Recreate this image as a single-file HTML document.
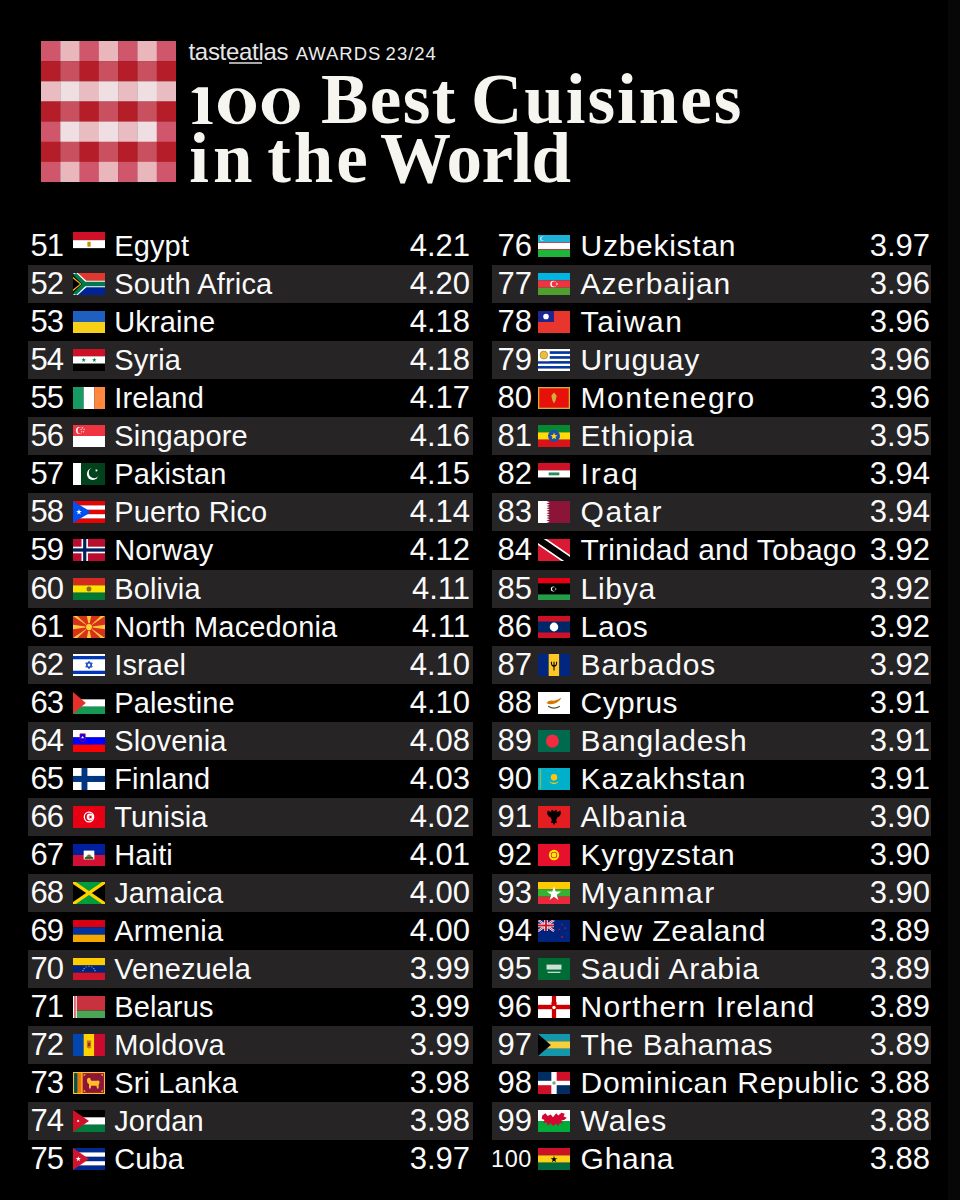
<!DOCTYPE html>
<html><head><meta charset="utf-8"><style>
html,body{margin:0;padding:0;background:#000;}
body{width:960px;height:1200px;position:relative;overflow:hidden;font-family:"Liberation Sans",sans-serif;color:#fafafa;}
.st{position:absolute;height:38px;background:#262425;}
.st.L{left:27.5px;width:445.5px;}
.st.R{left:491.5px;width:439.5px;}
.num,.nm,.sc{position:absolute;height:38px;line-height:38px;font-size:29px;white-space:nowrap;}
.num{font-size:31px;}
.sc{font-size:31px;}
.num.L{left:0;width:63.1px;text-align:right;letter-spacing:-1px;}
.num.R{left:470px;width:62px;text-align:right;}
.n100{font-size:23.5px;letter-spacing:0.6px;}
.nm.L{left:114.2px;letter-spacing:0.15px;}
.nm.R{left:580.6px;font-size:30px;}
.sc.L{left:380px;width:90px;text-align:right;}
.sc.R{left:841px;width:89px;text-align:right;}
.fl{position:absolute;display:block;}
.brand{position:absolute;left:188.5px;top:37.5px;font-size:24px;line-height:28px;letter-spacing:-0.3px;white-space:nowrap;color:#e6e6e6;}
.aw,.aw2{position:absolute;top:39.6px;font-size:18.5px;line-height:28px;letter-spacing:0.7px;white-space:nowrap;color:#ececec;}
.aw{left:295.7px;letter-spacing:0.96px;}
.aw2{left:385.6px;letter-spacing:1.0px;}
.ul{position:absolute;left:229px;top:62.3px;width:33px;height:1.4px;background:#a8a8a8;}
.tw{position:absolute;font-family:"Liberation Serif",serif;font-weight:bold;font-size:71px;white-space:nowrap;color:#f7f5f0;line-height:80px;}
</style></head><body>
<div style="position:absolute;left:948px;top:0;width:12px;height:1200px;background:#070707"></div>
<svg style="position:absolute;left:41px;top:41px" width="135" height="141" viewBox="0 0 135 141"><rect x="0.00" y="0.00" width="19.59" height="20.44" fill="#cf566b"/><rect x="19.29" y="0.00" width="19.59" height="20.44" fill="#e9b6bb"/><rect x="38.57" y="0.00" width="19.59" height="20.44" fill="#cf566b"/><rect x="57.86" y="0.00" width="19.59" height="20.44" fill="#e9b6bb"/><rect x="77.14" y="0.00" width="19.59" height="20.44" fill="#cf566b"/><rect x="96.43" y="0.00" width="19.59" height="20.44" fill="#e9b6bb"/><rect x="115.71" y="0.00" width="19.59" height="20.44" fill="#cf566b"/><rect x="0.00" y="20.14" width="19.59" height="20.44" fill="#b51e29"/><rect x="19.29" y="20.14" width="19.59" height="20.44" fill="#c9505f"/><rect x="38.57" y="20.14" width="19.59" height="20.44" fill="#b51e29"/><rect x="57.86" y="20.14" width="19.59" height="20.44" fill="#c9505f"/><rect x="77.14" y="20.14" width="19.59" height="20.44" fill="#b51e29"/><rect x="96.43" y="20.14" width="19.59" height="20.44" fill="#c9505f"/><rect x="115.71" y="20.14" width="19.59" height="20.44" fill="#b51e29"/><rect x="0.00" y="40.29" width="19.59" height="20.44" fill="#e8bcc1"/><rect x="19.29" y="40.29" width="19.59" height="20.44" fill="#f0dfe2"/><rect x="38.57" y="40.29" width="19.59" height="20.44" fill="#e8bcc1"/><rect x="57.86" y="40.29" width="19.59" height="20.44" fill="#f0dfe2"/><rect x="77.14" y="40.29" width="19.59" height="20.44" fill="#e8bcc1"/><rect x="96.43" y="40.29" width="19.59" height="20.44" fill="#f0dfe2"/><rect x="115.71" y="40.29" width="19.59" height="20.44" fill="#e8bcc1"/><rect x="0.00" y="60.43" width="19.59" height="20.44" fill="#b51e29"/><rect x="19.29" y="60.43" width="19.59" height="20.44" fill="#c9505f"/><rect x="38.57" y="60.43" width="19.59" height="20.44" fill="#b51e29"/><rect x="57.86" y="60.43" width="19.59" height="20.44" fill="#c9505f"/><rect x="77.14" y="60.43" width="19.59" height="20.44" fill="#b51e29"/><rect x="96.43" y="60.43" width="19.59" height="20.44" fill="#c9505f"/><rect x="115.71" y="60.43" width="19.59" height="20.44" fill="#b51e29"/><rect x="0.00" y="80.57" width="19.59" height="20.44" fill="#cf566b"/><rect x="19.29" y="80.57" width="19.59" height="20.44" fill="#f0dfe2"/><rect x="38.57" y="80.57" width="19.59" height="20.44" fill="#e8bcc1"/><rect x="57.86" y="80.57" width="19.59" height="20.44" fill="#f0dfe2"/><rect x="77.14" y="80.57" width="19.59" height="20.44" fill="#e8bcc1"/><rect x="96.43" y="80.57" width="19.59" height="20.44" fill="#f0dfe2"/><rect x="115.71" y="80.57" width="19.59" height="20.44" fill="#cf566b"/><rect x="0.00" y="100.71" width="19.59" height="20.44" fill="#b51e29"/><rect x="19.29" y="100.71" width="19.59" height="20.44" fill="#c9505f"/><rect x="38.57" y="100.71" width="19.59" height="20.44" fill="#b51e29"/><rect x="57.86" y="100.71" width="19.59" height="20.44" fill="#c9505f"/><rect x="77.14" y="100.71" width="19.59" height="20.44" fill="#b51e29"/><rect x="96.43" y="100.71" width="19.59" height="20.44" fill="#c9505f"/><rect x="115.71" y="100.71" width="19.59" height="20.44" fill="#b51e29"/><rect x="0.00" y="120.86" width="19.59" height="20.44" fill="#cf566b"/><rect x="19.29" y="120.86" width="19.59" height="20.44" fill="#e9b6bb"/><rect x="38.57" y="120.86" width="19.59" height="20.44" fill="#cf566b"/><rect x="57.86" y="120.86" width="19.59" height="20.44" fill="#e9b6bb"/><rect x="77.14" y="120.86" width="19.59" height="20.44" fill="#cf566b"/><rect x="96.43" y="120.86" width="19.59" height="20.44" fill="#e9b6bb"/><rect x="115.71" y="120.86" width="19.59" height="20.44" fill="#cf566b"/></svg>
<div class="brand">tasteatlas</div>
<div class="aw">AWARDS</div><div class="aw2">23/24</div>
<div class="ul"></div>
<svg style="position:absolute;left:0;top:0" width="320" height="130" viewBox="0 0 320 130"><g fill="#f7f5f0">
<path d="M198,87.3 L208,87.3 L208,120.3 Q208.6,121.9 212.6,122.2 L212.6,123.9 L192.3,123.9 L192.3,122.2 Q197.4,121.9 198,120.3 L198,93.2 L191.6,92.6 L191.6,91.4 Z"/>
<path fill-rule="evenodd" d="M218,106.25 a19,18.1 0 1,0 38,0 a19,18.1 0 1,0 -38,0 Z M229.3,106.25 a8.1,15.6 0 1,0 16.2,0 a8.1,15.6 0 1,0 -16.2,0 Z"/>
<path fill-rule="evenodd" d="M261.8,106.25 a19,18.1 0 1,0 38,0 a19,18.1 0 1,0 -38,0 Z M273,106.25 a8.1,15.6 0 1,0 16.2,0 a8.1,15.6 0 1,0 -16.2,0 Z"/>
</g></svg>
<div class="tw" style="left:321px;top:58.8px;letter-spacing:1.4px">Best</div>
<div class="tw" style="left:471px;top:58.8px;letter-spacing:1.97px">Cuisines</div>
<div class="tw" style="left:189.3px;top:117.7px;letter-spacing:3.9px">in</div>
<div class="tw" style="left:267.3px;top:117.7px;letter-spacing:2.85px">the</div>
<div class="tw" style="left:380px;top:117.7px;letter-spacing:-0.55px">World</div>
<div class="num L" style="top:227.20px">51</div><svg class="fl" style="left:73px;top:232.30px" width="32" height="24.5" viewBox="0 0 30 20" preserveAspectRatio="none"><rect y="0.000" width="30" height="6.717" fill="#ce1126"/><rect y="6.667" width="30" height="6.717" fill="#ffffff"/><rect y="13.333" width="30" height="6.717" fill="#000000"/><rect x="13.5" y="8" width="3" height="4" fill="#c09300"/></svg><div class="nm L" style="top:227.20px">Egypt</div><div class="sc L" style="top:227.20px">4.21</div><div class="st L" style="top:265.24px"></div><div class="num L" style="top:265.24px">52</div><svg class="fl" style="left:73px;top:273.24px" width="32" height="22" viewBox="0 0 30 20" preserveAspectRatio="none"><rect width="30" height="10" fill="#de3831"/><rect y="10" width="30" height="10" fill="#002395"/><path d="M0,0 L10,10 L0,20 Z" fill="#000"/><path d="M0,0 L4.5,0 L12.5,7 L30,7 L30,13 L12.5,13 L4.5,20 L0,20 L10,10 Z" fill="#fff"/><path d="M0,1.5 L3,0 L11.5,8 L30,8 L30,12 L11.5,12 L3,20 L0,18.5 L8.5,10 Z" fill="#007a4d"/><path d="M0,3.5 L8,10 L0,16.5 L0,15 L6.5,10 L0,5 Z" fill="#ffb612"/></svg><div class="nm L" style="top:265.24px">South Africa</div><div class="sc L" style="top:265.24px">4.20</div><div class="num L" style="top:303.27px">53</div><svg class="fl" style="left:73px;top:311.27px" width="32" height="22" viewBox="0 0 30 20" preserveAspectRatio="none"><rect y="0.000" width="30" height="10.050" fill="#1f5fbf"/><rect y="10.000" width="30" height="10.050" fill="#f7d117"/></svg><div class="nm L" style="top:303.27px">Ukraine</div><div class="sc L" style="top:303.27px">4.18</div><div class="st L" style="top:341.30px"></div><div class="num L" style="top:341.30px">54</div><svg class="fl" style="left:73px;top:349.30px" width="32" height="22" viewBox="0 0 30 20" preserveAspectRatio="none"><rect y="0.000" width="30" height="6.717" fill="#ce1126"/><rect y="6.667" width="30" height="6.717" fill="#ffffff"/><rect y="13.333" width="30" height="6.717" fill="#000000"/><polygon points="10.00,7.80 10.49,9.32 12.09,9.32 10.80,10.26 11.29,11.78 10.00,10.84 8.71,11.78 9.20,10.26 7.91,9.32 9.51,9.32" fill="#007a3d"/><polygon points="20.00,7.80 20.49,9.32 22.09,9.32 20.80,10.26 21.29,11.78 20.00,10.84 18.71,11.78 19.20,10.26 17.91,9.32 19.51,9.32" fill="#007a3d"/></svg><div class="nm L" style="top:341.30px">Syria</div><div class="sc L" style="top:341.30px">4.18</div><div class="num L" style="top:379.34px">55</div><svg class="fl" style="left:73px;top:387.34px" width="32" height="22" viewBox="0 0 30 20" preserveAspectRatio="none"><rect x="0.000" width="10.050" height="20" fill="#169b62"/><rect x="10.000" width="10.050" height="20" fill="#ffffff"/><rect x="20.000" width="10.050" height="20" fill="#ff883e"/></svg><div class="nm L" style="top:379.34px">Ireland</div><div class="sc L" style="top:379.34px">4.17</div><div class="st L" style="top:417.38px"></div><div class="num L" style="top:417.38px">56</div><svg class="fl" style="left:73px;top:425.38px" width="32" height="22" viewBox="0 0 30 20" preserveAspectRatio="none"><rect y="0.000" width="30" height="10.050" fill="#ef3340"/><rect y="10.000" width="30" height="10.050" fill="#ffffff"/><circle cx="6" cy="5" r="3.2" fill="#fff"/><circle cx="7.3" cy="5" r="3" fill="#ef3340"/><polygon points="9.00,1.70 9.20,2.32 9.86,2.32 9.33,2.71 9.53,3.33 9.00,2.94 8.47,3.33 8.67,2.71 8.14,2.32 8.80,2.32" fill="#fff"/><polygon points="7.60,3.10 7.80,3.72 8.46,3.72 7.93,4.11 8.13,4.73 7.60,4.34 7.07,4.73 7.27,4.11 6.74,3.72 7.40,3.72" fill="#fff"/><polygon points="10.40,3.10 10.60,3.72 11.26,3.72 10.73,4.11 10.93,4.73 10.40,4.34 9.87,4.73 10.07,4.11 9.54,3.72 10.20,3.72" fill="#fff"/><polygon points="8.10,5.30 8.30,5.92 8.96,5.92 8.43,6.31 8.63,6.93 8.10,6.54 7.57,6.93 7.77,6.31 7.24,5.92 7.90,5.92" fill="#fff"/><polygon points="9.90,5.30 10.10,5.92 10.76,5.92 10.23,6.31 10.43,6.93 9.90,6.54 9.37,6.93 9.57,6.31 9.04,5.92 9.70,5.92" fill="#fff"/></svg><div class="nm L" style="top:417.38px">Singapore</div><div class="sc L" style="top:417.38px">4.16</div><div class="num L" style="top:455.41px">57</div><svg class="fl" style="left:73px;top:463.41px" width="32" height="22" viewBox="0 0 30 20" preserveAspectRatio="none"><rect width="30" height="20" fill="#01411c"/><rect width="7.5" height="20" fill="#fff"/><circle cx="18.5" cy="10" r="5.5" fill="#fff"/><circle cx="19.8" cy="8.8" r="5" fill="#01411c"/><polygon points="22.75,5.50 22.52,6.57 23.47,7.11 22.38,7.23 22.16,8.29 21.71,7.30 20.63,7.41 21.44,6.68 21.00,5.69 21.94,6.23" fill="#fff"/></svg><div class="nm L" style="top:455.41px">Pakistan</div><div class="sc L" style="top:455.41px">4.15</div><div class="st L" style="top:493.44px"></div><div class="num L" style="top:493.44px">58</div><svg class="fl" style="left:73px;top:501.44px" width="32" height="22" viewBox="0 0 30 20" preserveAspectRatio="none"><rect y="0.000" width="30" height="4.050" fill="#ed0000"/><rect y="4.000" width="30" height="4.050" fill="#fff"/><rect y="8.000" width="30" height="4.050" fill="#ed0000"/><rect y="12.000" width="30" height="4.050" fill="#fff"/><rect y="16.000" width="30" height="4.050" fill="#ed0000"/><path d="M0,0 L17,10 L0,20 Z" fill="#0050f0"/><polygon points="5.60,7.20 6.23,9.13 8.26,9.13 6.62,10.33 7.25,12.27 5.60,11.07 3.95,12.27 4.58,10.33 2.94,9.13 4.97,9.13" fill="#fff"/></svg><div class="nm L" style="top:493.44px">Puerto Rico</div><div class="sc L" style="top:493.44px">4.14</div><div class="num L" style="top:531.48px">59</div><svg class="fl" style="left:73px;top:539.48px" width="32" height="22" viewBox="0 0 30 20" preserveAspectRatio="none"><rect width="30" height="20" fill="#ba0c2f"/><rect x="8" width="6" height="20" fill="#fff"/><rect y="7" width="30" height="6" fill="#fff"/><rect x="9.5" width="3" height="20" fill="#00205b"/><rect y="8.5" width="30" height="3" fill="#00205b"/></svg><div class="nm L" style="top:531.48px">Norway</div><div class="sc L" style="top:531.48px">4.12</div><div class="st L" style="top:569.51px"></div><div class="num L" style="top:569.51px">60</div><svg class="fl" style="left:73px;top:577.51px" width="32" height="22" viewBox="0 0 30 20" preserveAspectRatio="none"><rect y="0.000" width="30" height="6.717" fill="#d52b1e"/><rect y="6.667" width="30" height="6.717" fill="#f9e300"/><rect y="13.333" width="30" height="6.717" fill="#007934"/><circle cx="15" cy="10" r="2.3" fill="#8a6a1e"/></svg><div class="nm L" style="top:569.51px">Bolivia</div><div class="sc L" style="top:569.51px">4.11</div><div class="num L" style="top:607.55px">61</div><svg class="fl" style="left:73px;top:615.55px" width="32" height="22" viewBox="0 0 30 20" preserveAspectRatio="none"><rect width="30" height="20" fill="#d8301c"/><path d="M0,0 L4,0 L15,10 Z M30,0 L26,0 L15,10 Z M0,20 L4,20 L15,10 Z M30,20 L26,20 L15,10 Z M13,0 L17,0 L15,10 Z M13,20 L17,20 L15,10 Z M0,8 L0,12 L15,10 Z M30,8 L30,12 L15,10 Z" fill="#ffc83a"/><circle cx="15" cy="10" r="3.4" fill="#d8301c"/><circle cx="15" cy="10" r="2.8" fill="#ffd23a"/></svg><div class="nm L" style="top:607.55px">North Macedonia</div><div class="sc L" style="top:607.55px">4.11</div><div class="st L" style="top:645.59px"></div><div class="num L" style="top:645.59px">62</div><svg class="fl" style="left:73px;top:653.59px" width="32" height="22" viewBox="0 0 30 20" preserveAspectRatio="none"><rect width="30" height="20" fill="#fff"/><rect y="1.8" width="30" height="3" fill="#0038b8"/><rect y="15.2" width="30" height="3" fill="#0038b8"/><path d="M15,6.6 L18,11.8 L12,11.8 Z M15,13.4 L12,8.2 L18,8.2 Z" fill="none" stroke="#0038b8" stroke-width="0.9"/></svg><div class="nm L" style="top:645.59px">Israel</div><div class="sc L" style="top:645.59px">4.10</div><div class="num L" style="top:683.62px">63</div><svg class="fl" style="left:73px;top:691.62px" width="32" height="22" viewBox="0 0 30 20" preserveAspectRatio="none"><rect y="0.000" width="30" height="6.717" fill="#000"/><rect y="6.667" width="30" height="6.717" fill="#fff"/><rect y="13.333" width="30" height="6.717" fill="#149954"/><path d="M0,0 L12,10 L0,20 Z" fill="#e4312b"/></svg><div class="nm L" style="top:683.62px">Palestine</div><div class="sc L" style="top:683.62px">4.10</div><div class="st L" style="top:721.65px"></div><div class="num L" style="top:721.65px">64</div><svg class="fl" style="left:73px;top:729.65px" width="32" height="22" viewBox="0 0 30 20" preserveAspectRatio="none"><rect y="0.000" width="30" height="6.717" fill="#fff"/><rect y="6.667" width="30" height="6.717" fill="#0000ff"/><rect y="13.333" width="30" height="6.717" fill="#ff0000"/><path d="M6.5,3.5 L11.5,3.5 L11.5,9 Q9,12 6.5,9 Z" fill="#0000ff" stroke="#ff0000" stroke-width="0.6"/><path d="M7.5,7.5 L9,5.5 L10.5,7.5 Z" fill="#fff"/></svg><div class="nm L" style="top:721.65px">Slovenia</div><div class="sc L" style="top:721.65px">4.08</div><div class="num L" style="top:759.69px">65</div><svg class="fl" style="left:73px;top:767.69px" width="32" height="22" viewBox="0 0 30 20" preserveAspectRatio="none"><rect width="30" height="20" fill="#fff"/><rect x="8" width="5.5" height="20" fill="#003580"/><rect y="7.2" width="30" height="5.5" fill="#003580"/></svg><div class="nm L" style="top:759.69px">Finland</div><div class="sc L" style="top:759.69px">4.03</div><div class="st L" style="top:797.72px"></div><div class="num L" style="top:797.72px">66</div><svg class="fl" style="left:73px;top:805.72px" width="32" height="22" viewBox="0 0 30 20" preserveAspectRatio="none"><rect width="30" height="20" fill="#e70013"/><circle cx="15" cy="10" r="5" fill="#fff"/><circle cx="15" cy="10" r="3.8" fill="#e70013"/><circle cx="16" cy="10" r="3.1" fill="#fff"/><polygon points="14.10,10.00 15.62,9.51 15.62,7.91 16.56,9.20 18.08,8.71 17.14,10.00 18.08,11.29 16.56,10.80 15.62,12.09 15.62,10.49" fill="#e70013"/></svg><div class="nm L" style="top:797.72px">Tunisia</div><div class="sc L" style="top:797.72px">4.02</div><div class="num L" style="top:835.76px">67</div><svg class="fl" style="left:73px;top:843.76px" width="32" height="22" viewBox="0 0 30 20" preserveAspectRatio="none"><rect y="0.000" width="30" height="10.050" fill="#00209f"/><rect y="10.000" width="30" height="10.050" fill="#d21034"/><rect x="10" y="6" width="10" height="8" fill="#fff"/><path d="M11.5,13 Q15,6 18.5,13 Z" fill="#7a6a3a"/><rect x="11" y="12" width="8" height="1.5" fill="#016a16"/></svg><div class="nm L" style="top:835.76px">Haiti</div><div class="sc L" style="top:835.76px">4.01</div><div class="st L" style="top:873.79px"></div><div class="num L" style="top:873.79px">68</div><svg class="fl" style="left:73px;top:881.79px" width="32" height="22" viewBox="0 0 30 20" preserveAspectRatio="none"><rect width="30" height="20" fill="#009b3a"/><path d="M0,0 L15,10 L0,20 Z M30,0 L15,10 L30,20 Z" fill="#000"/><path d="M0,0 L30,20 M30,0 L0,20" stroke="#fed100" stroke-width="3"/></svg><div class="nm L" style="top:873.79px">Jamaica</div><div class="sc L" style="top:873.79px">4.00</div><div class="num L" style="top:911.83px">69</div><svg class="fl" style="left:73px;top:919.83px" width="32" height="22" viewBox="0 0 30 20" preserveAspectRatio="none"><rect y="0.000" width="30" height="6.717" fill="#d90012"/><rect y="6.667" width="30" height="6.717" fill="#0033a0"/><rect y="13.333" width="30" height="6.717" fill="#f2a800"/></svg><div class="nm L" style="top:911.83px">Armenia</div><div class="sc L" style="top:911.83px">4.00</div><div class="st L" style="top:949.87px"></div><div class="num L" style="top:949.87px">70</div><svg class="fl" style="left:73px;top:957.87px" width="32" height="22" viewBox="0 0 30 20" preserveAspectRatio="none"><rect y="0.000" width="30" height="6.717" fill="#ffcc00"/><rect y="6.667" width="30" height="6.717" fill="#00247d"/><rect y="13.333" width="30" height="6.717" fill="#cf142b"/><polygon points="9.36,10.75 9.52,11.23 10.03,11.23 9.62,11.53 9.77,12.01 9.36,11.72 8.95,12.01 9.11,11.53 8.70,11.23 9.20,11.23" fill="#fff"/><polygon points="10.40,8.94 10.56,9.43 11.07,9.43 10.66,9.73 10.82,10.21 10.40,9.91 9.99,10.21 10.15,9.73 9.74,9.43 10.25,9.43" fill="#fff"/><polygon points="12.28,7.45 12.43,7.94 12.94,7.94 12.53,8.24 12.69,8.72 12.28,8.42 11.86,8.72 12.02,8.24 11.61,7.94 12.12,7.94" fill="#fff"/><polygon points="15.00,6.80 15.16,7.28 15.67,7.28 15.25,7.58 15.41,8.07 15.00,7.77 14.59,8.07 14.75,7.58 14.33,7.28 14.84,7.28" fill="#fff"/><polygon points="17.72,7.45 17.88,7.94 18.39,7.94 17.98,8.24 18.14,8.72 17.72,8.42 17.31,8.72 17.47,8.24 17.06,7.94 17.57,7.94" fill="#fff"/><polygon points="19.60,8.94 19.75,9.43 20.26,9.43 19.85,9.73 20.01,10.21 19.60,9.91 19.18,10.21 19.34,9.73 18.93,9.43 19.44,9.43" fill="#fff"/><polygon points="20.64,10.75 20.80,11.23 21.30,11.23 20.89,11.53 21.05,12.01 20.64,11.72 20.23,12.01 20.38,11.53 19.97,11.23 20.48,11.23" fill="#fff"/></svg><div class="nm L" style="top:949.87px">Venezuela</div><div class="sc L" style="top:949.87px">3.99</div><div class="num L" style="top:987.90px">71</div><svg class="fl" style="left:73px;top:995.90px" width="32" height="22" viewBox="0 0 30 20" preserveAspectRatio="none"><rect width="30" height="13.3" fill="#c8313e"/><rect y="13.3" width="30" height="6.7" fill="#4aa657"/><rect width="3.5" height="20" fill="#fff"/><rect x="0.9" width="1.8" height="20" fill="#c8313e" opacity="0.7"/></svg><div class="nm L" style="top:987.90px">Belarus</div><div class="sc L" style="top:987.90px">3.99</div><div class="st L" style="top:1025.93px"></div><div class="num L" style="top:1025.93px">72</div><svg class="fl" style="left:73px;top:1033.93px" width="32" height="22" viewBox="0 0 30 20" preserveAspectRatio="none"><rect x="0.000" width="10.050" height="20" fill="#0046ae"/><rect x="10.000" width="10.050" height="20" fill="#ffd200"/><rect x="20.000" width="10.050" height="20" fill="#cc092f"/><path d="M13,6 L17,6 L17,12 Q15,14.5 13,12 Z" fill="#b07e2a"/><path d="M14,8 L16,8 L16,11 L14,11 Z" fill="#cc092f"/></svg><div class="nm L" style="top:1025.93px">Moldova</div><div class="sc L" style="top:1025.93px">3.99</div><div class="num L" style="top:1063.97px">73</div><svg class="fl" style="left:73px;top:1071.97px" width="32" height="22" viewBox="0 0 30 20" preserveAspectRatio="none"><rect width="30" height="20" fill="#ffbe29"/><rect x="1" y="1" width="3.4" height="18" fill="#00534e"/><rect x="4.4" y="1" width="3.4" height="18" fill="#eb7400"/><rect x="9" y="1" width="20" height="18" fill="#8d153a"/><path d="M13,7 Q14,4.5 16,5.5 L17,8 L22,8 Q24,7 25,9 L24,12 L24,15 L22.5,15 L22,12.5 L17,12.5 L16.5,15 L15,15 L15,11 Q13,10 13,7 Z" fill="#ffbe29"/><path d="M10,2 L12,2 L10,4 Z M28,2 L26,2 L28,4 Z M10,18 L12,18 L10,16 Z M28,18 L26,18 L28,16 Z" fill="#ffbe29"/></svg><div class="nm L" style="top:1063.97px">Sri Lanka</div><div class="sc L" style="top:1063.97px">3.98</div><div class="st L" style="top:1102.00px"></div><div class="num L" style="top:1102.00px">74</div><svg class="fl" style="left:73px;top:1110.00px" width="32" height="22" viewBox="0 0 30 20" preserveAspectRatio="none"><rect y="0.000" width="30" height="6.717" fill="#000"/><rect y="6.667" width="30" height="6.717" fill="#fff"/><rect y="13.333" width="30" height="6.717" fill="#007a3d"/><path d="M0,0 L15,10 L0,20 Z" fill="#ce1126"/><polygon points="4.80,8.70 5.08,9.41 5.82,9.19 5.43,9.86 6.07,10.29 5.31,10.41 5.36,11.17 4.80,10.65 4.24,11.17 4.29,10.41 3.53,10.29 4.17,9.86 3.78,9.19 4.52,9.41" fill="#fff"/></svg><div class="nm L" style="top:1102.00px">Jordan</div><div class="sc L" style="top:1102.00px">3.98</div><div class="num L" style="top:1140.04px">75</div><svg class="fl" style="left:73px;top:1148.04px" width="32" height="22" viewBox="0 0 30 20" preserveAspectRatio="none"><rect y="0.000" width="30" height="4.050" fill="#002a8f"/><rect y="4.000" width="30" height="4.050" fill="#fff"/><rect y="8.000" width="30" height="4.050" fill="#002a8f"/><rect y="12.000" width="30" height="4.050" fill="#fff"/><rect y="16.000" width="30" height="4.050" fill="#002a8f"/><path d="M0,0 L15,10 L0,20 Z" fill="#cf142b"/><polygon points="5.00,7.40 5.58,9.20 7.47,9.20 5.94,10.31 6.53,12.10 5.00,10.99 3.47,12.10 4.06,10.31 2.53,9.20 4.42,9.20" fill="#fff"/></svg><div class="nm L" style="top:1140.04px">Cuba</div><div class="sc L" style="top:1140.04px">3.97</div><div class="num R" style="top:227.20px">76</div><svg class="fl" style="left:538.3px;top:235.20px" width="32" height="22" viewBox="0 0 30 20" preserveAspectRatio="none"><rect width="30" height="6.7" fill="#1eb2d6"/><rect y="6.7" width="30" height="6.6" fill="#fff"/><rect y="13.3" width="30" height="6.7" fill="#1eb53a"/><rect y="6.4" width="30" height="0.6" fill="#ce1126"/><rect y="13" width="30" height="0.6" fill="#ce1126"/><circle cx="4" cy="3.3" r="2" fill="#fff"/><circle cx="4.8" cy="3.3" r="1.8" fill="#1eb2d6"/></svg><div class="nm R" style="top:227.20px;letter-spacing:0.722px">Uzbekistan</div><div class="sc R" style="top:227.20px">3.97</div><div class="st R" style="top:265.24px"></div><div class="num R" style="top:265.24px">77</div><svg class="fl" style="left:538.3px;top:273.24px" width="32" height="22" viewBox="0 0 30 20" preserveAspectRatio="none"><rect y="0.000" width="30" height="6.717" fill="#00b5e2"/><rect y="6.667" width="30" height="6.717" fill="#ef3340"/><rect y="13.333" width="30" height="6.717" fill="#509e2f"/><circle cx="14.5" cy="10" r="3" fill="#fff"/><circle cx="15.3" cy="10" r="2.4" fill="#ef3340"/><polygon points="17.80,8.90 18.01,9.49 18.58,9.22 18.31,9.79 18.90,10.00 18.31,10.21 18.58,10.78 18.01,10.51 17.80,11.10 17.59,10.51 17.02,10.78 17.29,10.21 16.70,10.00 17.29,9.79 17.02,9.22 17.59,9.49" fill="#fff"/></svg><div class="nm R" style="top:265.24px;letter-spacing:0.878px">Azerbaijan</div><div class="sc R" style="top:265.24px">3.96</div><div class="num R" style="top:303.27px">78</div><svg class="fl" style="left:538.3px;top:311.27px" width="32" height="22" viewBox="0 0 30 20" preserveAspectRatio="none"><rect width="30" height="20" fill="#e8362f"/><rect width="15" height="10" fill="#1c2590"/><circle cx="7.5" cy="5" r="2.6" fill="#fff"/></svg><div class="nm R" style="top:303.27px;letter-spacing:1.6px">Taiwan</div><div class="sc R" style="top:303.27px">3.96</div><div class="st R" style="top:341.30px"></div><div class="num R" style="top:341.30px">79</div><svg class="fl" style="left:538.3px;top:349.30px" width="32" height="22" viewBox="0 0 30 20" preserveAspectRatio="none"><rect y="0.000" width="30" height="2.272" fill="#fff"/><rect y="2.222" width="30" height="2.272" fill="#0038a8"/><rect y="4.444" width="30" height="2.272" fill="#fff"/><rect y="6.667" width="30" height="2.272" fill="#0038a8"/><rect y="8.889" width="30" height="2.272" fill="#fff"/><rect y="11.111" width="30" height="2.272" fill="#0038a8"/><rect y="13.333" width="30" height="2.272" fill="#fff"/><rect y="15.556" width="30" height="2.272" fill="#0038a8"/><rect y="17.778" width="30" height="2.272" fill="#fff"/><rect width="11" height="11.1" fill="#fff"/><circle cx="5.5" cy="5.5" r="3.6" fill="#e8c040" stroke="#9b6a20" stroke-width="0.5"/></svg><div class="nm R" style="top:341.30px;letter-spacing:0.867px">Uruguay</div><div class="sc R" style="top:341.30px">3.96</div><div class="num R" style="top:379.34px">80</div><svg class="fl" style="left:538.3px;top:387.34px" width="32" height="22" viewBox="0 0 30 20" preserveAspectRatio="none"><rect width="30" height="20" fill="#d3ae3b"/><rect x="1.2" y="1.2" width="27.6" height="17.6" fill="#e8100b"/><path d="M15,5 L17.5,8 L16.5,12 L15,15 L13.5,12 L12.5,8 Z" fill="#d3ae3b"/></svg><div class="nm R" style="top:379.34px;letter-spacing:1.511px">Montenegro</div><div class="sc R" style="top:379.34px">3.96</div><div class="st R" style="top:417.38px"></div><div class="num R" style="top:417.38px">81</div><svg class="fl" style="left:538.3px;top:425.38px" width="32" height="22" viewBox="0 0 30 20" preserveAspectRatio="none"><rect y="0.000" width="30" height="6.717" fill="#078930"/><rect y="6.667" width="30" height="6.717" fill="#fcdd09"/><rect y="13.333" width="30" height="6.717" fill="#da121a"/><circle cx="15" cy="10" r="5.6" fill="#1f4fa8"/><polygon points="15.00,6.90 15.90,9.06 18.23,9.25 16.46,10.77 17.00,13.05 15.00,11.83 13.00,13.05 13.54,10.77 11.77,9.25 14.10,9.06" fill="#fcdd09"/></svg><div class="nm R" style="top:417.38px;letter-spacing:0.671px">Ethiopia</div><div class="sc R" style="top:417.38px">3.95</div><div class="num R" style="top:455.41px">82</div><svg class="fl" style="left:538.3px;top:463.41px" width="32" height="22" viewBox="0 0 30 20" preserveAspectRatio="none"><rect y="0.000" width="30" height="6.717" fill="#ce1126"/><rect y="6.667" width="30" height="6.717" fill="#fff"/><rect y="13.333" width="30" height="6.717" fill="#000"/><rect x="10" y="8.6" width="10" height="2.6" fill="#007a3d" opacity="0.85"/></svg><div class="nm R" style="top:455.41px;letter-spacing:1.767px">Iraq</div><div class="sc R" style="top:455.41px">3.94</div><div class="st R" style="top:493.44px"></div><div class="num R" style="top:493.44px">83</div><svg class="fl" style="left:538.3px;top:501.44px" width="32" height="22" viewBox="0 0 30 20" preserveAspectRatio="none"><rect width="30" height="20" fill="#8a1538"/><path d="M0,0 L8,0 L11,1.11 L8,2.22 L11,3.33 L8,4.44 L11,5.56 L8,6.67 L11,7.78 L8,8.89 L11,10.00 L8,11.11 L11,12.22 L8,13.33 L11,14.44 L8,15.56 L11,16.67 L8,17.78 L11,18.89 L8,20.00 L0,20 Z" fill="#fff"/></svg><div class="nm R" style="top:493.44px;letter-spacing:1.45px">Qatar</div><div class="sc R" style="top:493.44px">3.94</div><div class="num R" style="top:531.48px">84</div><svg class="fl" style="left:538.3px;top:539.48px" width="32" height="22" viewBox="0 0 30 20" preserveAspectRatio="none"><rect width="30" height="20" fill="#da1a35"/><path d="M0,0 L30,20" stroke="#fff" stroke-width="9"/><path d="M0,0 L30,20" stroke="#000" stroke-width="6"/><path d="M-2,-1.5 L4,-1.5 L4,0 Z" fill="#fff"/></svg><div class="nm R" style="top:531.48px;letter-spacing:0.217px">Trinidad and Tobago</div><div class="sc R" style="top:531.48px">3.92</div><div class="st R" style="top:569.51px"></div><div class="num R" style="top:569.51px">85</div><svg class="fl" style="left:538.3px;top:577.51px" width="32" height="22" viewBox="0 0 30 20" preserveAspectRatio="none"><rect width="30" height="5" fill="#e70013"/><rect y="5" width="30" height="10" fill="#000"/><rect y="15" width="30" height="5" fill="#239e46"/><circle cx="14.3" cy="10" r="2.3" fill="#fff"/><circle cx="15" cy="10" r="1.9" fill="#000"/><polygon points="16.60,9.00 16.82,9.69 17.55,9.69 16.96,10.12 17.19,10.81 16.60,10.38 16.01,10.81 16.24,10.12 15.65,9.69 16.38,9.69" fill="#fff"/></svg><div class="nm R" style="top:569.51px;letter-spacing:0.7px">Libya</div><div class="sc R" style="top:569.51px">3.92</div><div class="num R" style="top:607.55px">86</div><svg class="fl" style="left:538.3px;top:615.55px" width="32" height="22" viewBox="0 0 30 20" preserveAspectRatio="none"><rect width="30" height="20" fill="#ce1126"/><rect y="5" width="30" height="10" fill="#002868"/><circle cx="15" cy="10" r="4" fill="#fff"/></svg><div class="nm R" style="top:607.55px;letter-spacing:0.733px">Laos</div><div class="sc R" style="top:607.55px">3.92</div><div class="st R" style="top:645.59px"></div><div class="num R" style="top:645.59px">87</div><svg class="fl" style="left:538.3px;top:653.59px" width="32" height="22" viewBox="0 0 30 20" preserveAspectRatio="none"><rect x="0.000" width="10.050" height="20" fill="#00267f"/><rect x="10.000" width="10.050" height="20" fill="#ffc726"/><rect x="20.000" width="10.050" height="20" fill="#00267f"/><path d="M15,7 L15,15 M12.5,7 Q12.5,11 15,11 Q17.5,11 17.5,7" stroke="#000" stroke-width="1" fill="none"/></svg><div class="nm R" style="top:645.59px;letter-spacing:0.9px">Barbados</div><div class="sc R" style="top:645.59px">3.92</div><div class="num R" style="top:683.62px">88</div><svg class="fl" style="left:538.3px;top:691.62px" width="32" height="22" viewBox="0 0 30 20" preserveAspectRatio="none"><rect width="30" height="20" fill="#fff"/><path d="M8,10 Q10,7 15,8 Q19,7 22,5 L20.5,7.5 Q18,10 14,11 Q10,11.5 8,10 Z" fill="#d57800"/><path d="M9.5,13 Q15,16.5 20.5,13" stroke="#4e5b31" stroke-width="1.1" fill="none"/></svg><div class="nm R" style="top:683.62px;letter-spacing:0.4px">Cyprus</div><div class="sc R" style="top:683.62px">3.91</div><div class="st R" style="top:721.65px"></div><div class="num R" style="top:721.65px">89</div><svg class="fl" style="left:538.3px;top:729.65px" width="32" height="22" viewBox="0 0 30 20" preserveAspectRatio="none"><rect width="30" height="20" fill="#006a4e"/><circle cx="13.5" cy="10" r="6" fill="#f42a41"/></svg><div class="nm R" style="top:721.65px;letter-spacing:0.856px">Bangladesh</div><div class="sc R" style="top:721.65px">3.91</div><div class="num R" style="top:759.69px">90</div><svg class="fl" style="left:538.3px;top:767.69px" width="32" height="22" viewBox="0 0 30 20" preserveAspectRatio="none"><rect width="30" height="20" fill="#00afca"/><circle cx="15" cy="8.5" r="3" fill="#fec50c"/><path d="M10.5,12 Q15,15 19.5,12 L18.5,13.5 Q15,16 11.5,13.5 Z" fill="#fec50c"/><rect x="1.5" y="1" width="1.5" height="18" fill="#fec50c" opacity="0.5"/></svg><div class="nm R" style="top:759.69px;letter-spacing:0.889px">Kazakhstan</div><div class="sc R" style="top:759.69px">3.91</div><div class="st R" style="top:797.72px"></div><div class="num R" style="top:797.72px">91</div><svg class="fl" style="left:538.3px;top:805.72px" width="32" height="22" viewBox="0 0 30 20" preserveAspectRatio="none"><rect width="30" height="20" fill="#e41e20"/><path d="M15,5 L13.5,3.5 L12,4.5 L13,6 L9,4 L8.5,7 L10,9.5 L12,10.5 L13,13 L12,15 L14,15.5 L15,17.5 L16,15.5 L18,15 L17,13 L18,10.5 L20,9.5 L21.5,7 L21,4 L17,6 L18,4.5 L16.5,3.5 Z" fill="#000"/></svg><div class="nm R" style="top:797.72px;letter-spacing:0.917px">Albania</div><div class="sc R" style="top:797.72px">3.90</div><div class="num R" style="top:835.76px">92</div><svg class="fl" style="left:538.3px;top:843.76px" width="32" height="22" viewBox="0 0 30 20" preserveAspectRatio="none"><rect width="30" height="20" fill="#e8112d"/><circle cx="15" cy="10" r="4.8" fill="#ffef00"/><circle cx="15" cy="10" r="3" fill="#e8112d"/><circle cx="15" cy="10" r="2.3" fill="#ffef00"/></svg><div class="nm R" style="top:835.76px;letter-spacing:0.633px">Kyrgyzstan</div><div class="sc R" style="top:835.76px">3.90</div><div class="st R" style="top:873.79px"></div><div class="num R" style="top:873.79px">93</div><svg class="fl" style="left:538.3px;top:881.79px" width="32" height="22" viewBox="0 0 30 20" preserveAspectRatio="none"><rect y="0.000" width="30" height="6.717" fill="#fecb00"/><rect y="6.667" width="30" height="6.717" fill="#34b233"/><rect y="13.333" width="30" height="6.717" fill="#ea2839"/><polygon points="15.00,3.80 16.57,8.64 21.66,8.64 17.54,11.63 19.11,16.46 15.00,13.47 10.89,16.46 12.46,11.63 8.34,8.64 13.43,8.64" fill="#fff"/></svg><div class="nm R" style="top:873.79px;letter-spacing:1.433px">Myanmar</div><div class="sc R" style="top:873.79px">3.90</div><div class="num R" style="top:911.83px">94</div><svg class="fl" style="left:538.3px;top:919.83px" width="32" height="22" viewBox="0 0 30 20" preserveAspectRatio="none"><rect width="30" height="20" fill="#00247d"/><path d="M0,0 L15,10 M15,0 L0,10" stroke="#fff" stroke-width="2"/><path d="M0,0 L15,10 M15,0 L0,10" stroke="#cc142b" stroke-width="0.8"/><path d="M7.5,0 V10 M0,5 H15" stroke="#fff" stroke-width="3.2"/><path d="M7.5,0 V10 M0,5 H15" stroke="#cc142b" stroke-width="1.8"/><polygon points="22.50,14.10 22.81,15.07 23.83,15.07 23.01,15.67 23.32,16.63 22.50,16.03 21.68,16.63 21.99,15.67 21.17,15.07 22.19,15.07" fill="#cc142b"/><polygon points="20.00,7.30 20.27,8.13 21.14,8.13 20.44,8.64 20.71,9.47 20.00,8.96 19.29,9.47 19.56,8.64 18.86,8.13 19.73,8.13" fill="#cc142b"/><polygon points="25.50,6.30 25.77,7.13 26.64,7.13 25.94,7.64 26.21,8.47 25.50,7.96 24.79,8.47 25.06,7.64 24.36,7.13 25.23,7.13" fill="#cc142b"/><polygon points="22.50,2.90 22.75,3.66 23.55,3.66 22.90,4.13 23.15,4.89 22.50,4.42 21.85,4.89 22.10,4.13 21.45,3.66 22.25,3.66" fill="#cc142b"/></svg><div class="nm R" style="top:911.83px;letter-spacing:0.82px">New Zealand</div><div class="sc R" style="top:911.83px">3.89</div><div class="st R" style="top:949.87px"></div><div class="num R" style="top:949.87px">95</div><svg class="fl" style="left:538.3px;top:957.87px" width="32" height="22" viewBox="0 0 30 20" preserveAspectRatio="none"><rect width="30" height="20" fill="#006c35"/><rect x="8" y="6" width="14" height="4.5" fill="#fff" opacity="0.8"/><rect x="9" y="12.5" width="12" height="0.9" fill="#fff"/></svg><div class="nm R" style="top:949.87px;letter-spacing:0.736px">Saudi Arabia</div><div class="sc R" style="top:949.87px">3.89</div><div class="num R" style="top:987.90px">96</div><svg class="fl" style="left:538.3px;top:995.90px" width="32" height="22" viewBox="0 0 30 20" preserveAspectRatio="none"><rect width="30" height="20" fill="#fff"/><rect x="13" width="4" height="20" fill="#cc0000"/><rect y="8" width="30" height="4" fill="#cc0000"/><path d="M12.5,6 L15,4 L17.5,6 L17,10 L13,10 Z" fill="#cc0000"/><circle cx="15" cy="10.5" r="1.6" fill="#fff"/></svg><div class="nm R" style="top:987.90px;letter-spacing:1.12px">Northern Ireland</div><div class="sc R" style="top:987.90px">3.89</div><div class="st R" style="top:1025.93px"></div><div class="num R" style="top:1025.93px">97</div><svg class="fl" style="left:538.3px;top:1033.93px" width="32" height="22" viewBox="0 0 30 20" preserveAspectRatio="none"><rect y="0.000" width="30" height="6.717" fill="#1597ab"/><rect y="6.667" width="30" height="6.717" fill="#f5cf3c"/><rect y="13.333" width="30" height="6.717" fill="#1597ab"/><path d="M0,0 L12,10 L0,20 Z" fill="#000"/></svg><div class="nm R" style="top:1025.93px;letter-spacing:0.51px">The Bahamas</div><div class="sc R" style="top:1025.93px">3.89</div><div class="num R" style="top:1063.97px">98</div><svg class="fl" style="left:538.3px;top:1071.97px" width="32" height="22" viewBox="0 0 30 20" preserveAspectRatio="none"><rect width="30" height="20" fill="#fff"/><rect width="12.5" height="8" fill="#002d62"/><rect x="17.5" width="12.5" height="8" fill="#ce1126"/><rect y="12" width="12.5" height="8" fill="#ce1126"/><rect x="17.5" y="12" width="12.5" height="8" fill="#002d62"/><circle cx="15" cy="10" r="1.6" fill="#8a9a8a"/></svg><div class="nm R" style="top:1063.97px;letter-spacing:0.665px">Dominican Republic</div><div class="sc R" style="top:1063.97px">3.88</div><div class="st R" style="top:1102.00px"></div><div class="num R" style="top:1102.00px">99</div><svg class="fl" style="left:538.3px;top:1110.00px" width="32" height="22" viewBox="0 0 30 20" preserveAspectRatio="none"><rect width="30" height="10" fill="#fff"/><rect y="10" width="30" height="10" fill="#00ab39"/><path d="M4,5 L7,3 L9,5.5 L12,4 L14,6.5 L17,3 L19,5 L22,2.5 L25,3.5 L24,6 L27,7 L24.5,9 L22,9.5 L23,12.5 L20.5,11.5 L19,14.5 L17,12.5 L14,14.5 L12,12 L9,14 L8,11 L5,12 L6,9 L3.5,8 Z" fill="#d30731"/></svg><div class="nm R" style="top:1102.00px;letter-spacing:0.875px">Wales</div><div class="sc R" style="top:1102.00px">3.88</div><div class="num n100 R" style="top:1140.04px">100</div><svg class="fl" style="left:538.3px;top:1148.04px" width="32" height="22" viewBox="0 0 30 20" preserveAspectRatio="none"><rect y="0.000" width="30" height="6.717" fill="#ce1126"/><rect y="6.667" width="30" height="6.717" fill="#fcd116"/><rect y="13.333" width="30" height="6.717" fill="#006b3f"/><polygon points="15.00,7.00 15.74,9.28 18.14,9.28 16.20,10.69 16.94,12.97 15.00,11.56 13.06,12.97 13.80,10.69 11.86,9.28 14.26,9.28" fill="#000"/></svg><div class="nm R" style="top:1140.04px;letter-spacing:0.7px">Ghana</div><div class="sc R" style="top:1140.04px">3.88</div>
</body></html>
